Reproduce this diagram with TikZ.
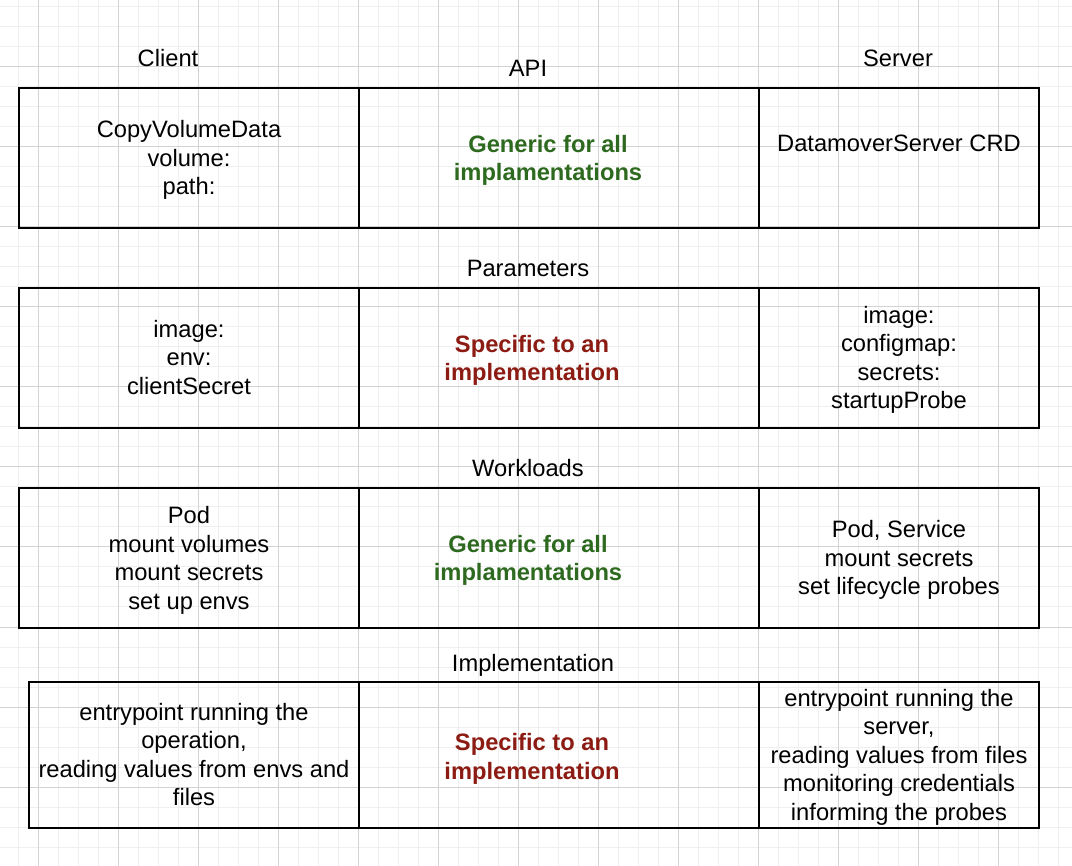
\documentclass[tikz,border=0pt]{standalone}
\usepackage{fontspec}
\setmainfont{Liberation Sans}
\definecolor{gridminor}{HTML}{EFEFEF}
\definecolor{gridmajor}{HTML}{D3D3D3}
\definecolor{genericgreen}{HTML}{2D6A1F}
\definecolor{specificred}{HTML}{8C1C13}
\begin{document}
\begin{tikzpicture}[x=1pt,y=-1pt,
  cellbox/.style={draw=black,line width=2pt,rectangle,inner sep=0pt,outer sep=0pt},
  txt/.style={font=\fontsize{23.7}{28.5}\selectfont,align=center,anchor=base,inner sep=0pt,yshift=-1pt},
  generic/.style={txt,font=\fontsize{23.7}{28.5}\selectfont\bfseries,text=genericgreen,yshift=-1.5pt},
  specific/.style={txt,font=\fontsize{23.7}{28.5}\selectfont\bfseries,text=specificred,yshift=-1.5pt},
  minorline/.style={draw=gridminor,line width=1pt},
  majorline/.style={draw=gridmajor,line width=1pt}]
\useasboundingbox (0,0) rectangle (1072,866);
\fill[white] (0,0) rectangle (1072,866);
% grid
\foreach \x in {18,38,...,1058} \draw[minorline] (\x,0) -- (\x,866);
\foreach \y in {7,27,...,847} \draw[minorline] (0,\y) -- (1072,\y);
\foreach \x in {38,118,...,998} \draw[majorline] (\x,0) -- (\x,866);
\foreach \y in {67,147,...,827} \draw[majorline] (0,\y) -- (1072,\y);

% cells
\node[cellbox,minimum width=340pt,minimum height=140pt] (r1c1) at (189,157.7) {};
\node[cellbox,minimum width=400pt,minimum height=140pt] (r1c2) at (559,157.7) {};
\node[cellbox,minimum width=280pt,minimum height=140pt] (r1c3) at (899,157.7) {};
\node[cellbox,minimum width=340pt,minimum height=140pt] (r2c1) at (189,357.7) {};
\node[cellbox,minimum width=400pt,minimum height=140pt] (r2c2) at (559,357.7) {};
\node[cellbox,minimum width=280pt,minimum height=140pt] (r2c3) at (899,357.7) {};
\node[cellbox,minimum width=340pt,minimum height=140pt] (r3c1) at (189,557.7) {};
\node[cellbox,minimum width=400pt,minimum height=140pt] (r3c2) at (559,557.7) {};
\node[cellbox,minimum width=280pt,minimum height=140pt] (r3c3) at (899,557.7) {};
\node[cellbox,minimum width=330pt,minimum height=146pt] (r4c1) at (194,754.7) {};
\node[cellbox,minimum width=400pt,minimum height=146pt] (r4c2) at (559,754.7) {};
\node[cellbox,minimum width=280pt,minimum height=146pt] (r4c3) at (899,754.7) {};

% headers
\node[txt] (hclient) at (168,65.7) {Client};
\node[txt] (hapi) at (528,75.7) {API};
\node[txt] (hserver) at (898,65.7) {Server};
\node[txt] (hparam) at (528,276) {Parameters};
\node[txt] (hwork) at (528,476) {Workloads};
\node[txt] (himpl) at (533,670) {Implementation};

% row 1 (anchor = baseline of the last line)
\node[txt] (t11) at (189,193.7) {CopyVolumeData\\volume:\\path:};
\node[generic] (t12) at (548,178.5) {Generic for all\\implamentations};
\node[txt] (t13) at (899,150.7) {DatamoverServer CRD};
% row 2
\node[txt] (t21) at (189,393.5) {image:\\env:\\clientSecret};
\node[specific] (t22) at (532,378.5) {Specific to an\\implementation};
\node[txt] (t23) at (899,407.8) {image:\\configmap:\\secrets:\\startupProbe};
% row 3
\node[txt] (t31) at (189,608) {Pod\\mount volumes\\mount secrets\\set up envs};
\node[generic] (t32) at (528,578.5) {Generic for all\\implamentations};
\node[txt] (t33) at (899,593.7) {Pod, Service\\mount secrets\\set lifecycle probes};
% row 4
\node[txt] (t41) at (194,804.9) {entrypoint running the\\operation,\\reading values from envs and\\files};
\node[specific] (t42) at (532,776.8) {Specific to an\\implementation};
\node[txt] (t43) at (899,819.2) {entrypoint running the\\server,\\reading values from files\\monitoring credentials\\informing the probes};
\end{tikzpicture}
\end{document}
